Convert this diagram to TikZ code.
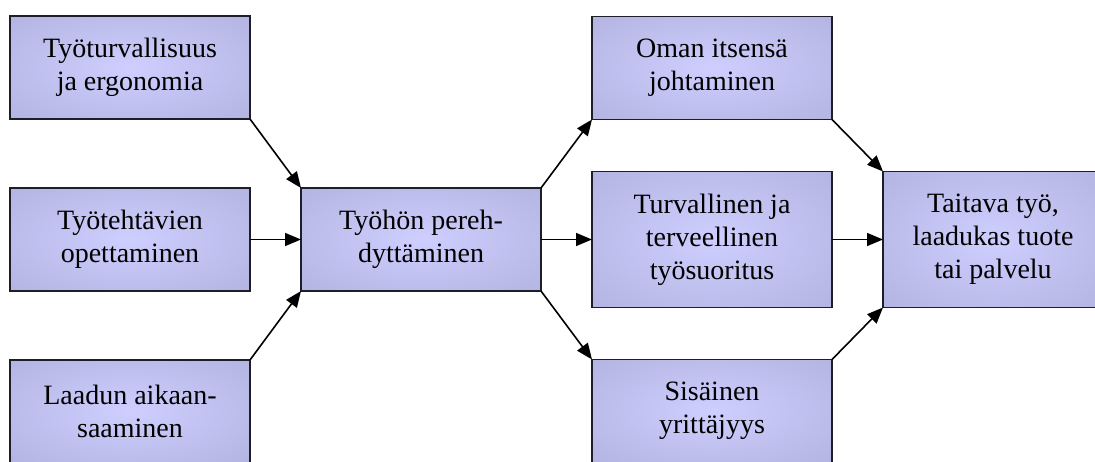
\documentclass[tikz,border=0pt]{standalone}
\usepackage{fontspec}
\setmainfont{Liberation Serif}
\usetikzlibrary{positioning, arrows.meta}
\definecolor{boxin}{RGB}{206, 206, 255}
\definecolor{boxout}{RGB}{174, 174, 219}
\definecolor{boxline}{RGB}{30, 30, 40}
\pgfdeclareradialshading{boxshade}{\pgfpoint{0bp}{0bp}}{color(0bp)=(boxin); color(44bp)=(boxout); color(50bp)=(boxout)}

\begin{document}
\begin{tikzpicture}[
      node distance=69pt and 51pt,
      font=\fontsize{28}{33}\selectfont,
      >={Triangle[length=16pt, width=13pt]},
      box/.style={rectangle, draw=boxline, line width=1.4pt, shading=boxshade, minimum width=240pt, minimum height=103pt, inner sep=0pt, outer sep=0pt, align=center},
      tallbox/.style={box, minimum height=136pt},
      arrow/.style={->, line width=1.6pt, draw=black}
  ]
  \clip (0,0) rectangle (1095pt,-462pt);

  % Nodes
  \node[box] (opetus) at (130pt,-239.5pt) {Työtehtävien\\opettaminen};
  \node[box, above=of opetus] (turva) {Työturvallisuus\\ja ergonomia};
  \node[box, below=of opetus] (laatu) {Laadun aikaan-\\saaminen};
  \node[box, right=of opetus] (pereh) {Työhön pereh-\\dyttäminen};
  \node[tallbox, right=of pereh] (suoritus) {Turvallinen ja\\terveellinen\\työsuoritus};
  \node[box, above=52pt of suoritus] (johtaminen) {Oman itsensä\\johtaminen};
  \node[box, below=52pt of suoritus] (yrittajyys) {Sisäinen\\yrittäjyys};
  \node[tallbox, right=of suoritus, minimum width=220pt] (tulos) {Taitava työ,\\laadukas tuote\\tai palvelu};

  % Arrows
  \draw[arrow] (turva.south east) -- (pereh.north west);
  \draw[arrow] (opetus) -- (pereh);
  \draw[arrow] (laatu.north east) -- (pereh.south west);
  \draw[arrow] (pereh.north east) -- (johtaminen.south west);
  \draw[arrow] (pereh) -- (suoritus);
  \draw[arrow] (pereh.south east) -- (yrittajyys.north west);
  \draw[arrow] (johtaminen.south east) -- (tulos.north west);
  \draw[arrow] (suoritus) -- (tulos);
  \draw[arrow] (yrittajyys.north east) -- (tulos.south west);

\end{tikzpicture}
\end{document}
